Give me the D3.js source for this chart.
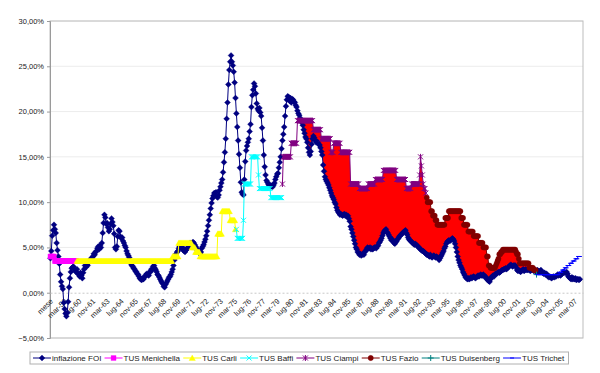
<!DOCTYPE html>
<html>
<head>
<meta charset="utf-8">
<script src="https://cdn.jsdelivr.net/npm/d3@7"></script>
<style>
  body { margin: 0; background: #fff; }
  svg text { font-family: "Liberation Sans", Arial, Helvetica, sans-serif; }
</style>
</head>
<body>
<div id="chart"></div>
<script>
// categories are months starting nov-57 (first label of the sheet is the header "mese")
const firstMonth = "1957-11"
const nMonths = 602

// x tick labels, one every 16 months
const tickLabels = ["mese", "mar-59", "lug-60", "nov-61", "mar-63", "lug-64", "nov-65", "mar-67", "lug-68", "nov-69",
  "mar-71", "lug-72", "nov-73", "mar-75", "lug-76", "nov-77", "mar-79", "lug-80", "nov-81", "mar-83",
  "lug-84", "nov-85", "mar-87", "lug-88", "nov-89", "mar-91", "lug-92", "nov-93", "mar-95", "lug-96",
  "nov-97", "mar-99", "lug-00", "nov-01", "mar-03", "lug-04", "nov-05", "mar-07"]

const yTicks = [-5, 0, 5, 10, 15, 20, 25, 30]

// inflazione FOI (%), monthly from nov-57 to set-07
const inflazione = [
  3.8, 4.6,
  6.3, 6.9, 7.5, 7.0, 6.6, 5.5, 4.7, 4.0, 3.2, 2.0, 1.2, 0.7,         // 1958
  0.4, -1.1, -1.8, -2.3, -2.6, -2.2, -1.0, 0.6, 1.6, 2.3, 2.7, 2.8,  // 1959
  2.9, 2.6, 2.4, 2.3, 2.6, 2.1, 2.0, 1.8, 2.2, 1.9, 1.6, 2.2,        // 1960
  2.6, 3.0, 2.8, 3.2, 3.0, 3.3, 3.5, 3.6, 3.8, 3.7, 4.0, 4.3,        // 1961
  4.2, 4.5, 4.6, 4.9, 5.1, 4.8, 5.2, 5.0, 5.5, 6.6, 7.7, 8.6,        // 1962
  8.3, 7.6, 7.7, 7.2, 6.8, 7.0, 7.6, 8.2, 7.8, 7.4, 6.5, 5.0,        // 1963
  4.8, 5.1, 6.2, 6.9, 6.8, 6.2, 6.0, 6.1, 5.7, 5.5, 5.2, 5.0,        // 1964
  4.6, 4.3, 4.1, 3.9, 3.5, 3.2, 3.0, 2.9, 2.7, 2.6, 2.4, 2.3,        // 1965
  2.1, 2.0, 1.8, 1.6, 1.5, 1.4, 1.6, 1.5, 1.7, 1.8, 2.0, 2.1,        // 1966
  2.0, 1.9, 2.2, 2.4, 2.6, 2.5, 2.9, 3.0, 2.7, 2.5, 2.3, 2.0,        // 1967
  1.9, 1.7, 1.5, 1.3, 1.1, 1.0, 0.7, 0.6, 0.9, 1.1, 1.3, 1.5,        // 1968
  1.7, 1.8, 2.0, 2.3, 2.6, 3.0, 3.6, 4.0, 4.3, 4.5, 4.6, 4.9,        // 1969
  5.1, 5.0, 5.1, 5.0, 4.7, 4.6, 4.5, 4.7, 4.8, 5.0, 5.2, 5.4,        // 1970
  5.5, 5.4, 5.5, 5.6, 5.5, 5.3, 5.1, 4.9, 4.7, 4.6, 4.4, 4.3,        // 1971
  4.5, 4.9, 5.1, 5.3, 5.6, 5.9, 6.3, 6.8, 7.4, 8.0, 8.6, 9.3,        // 1972
  9.9, 10.4, 10.7, 11.0, 10.8, 11.1, 10.6, 10.5, 10.8, 11.3, 11.7, 12.1,   // 1973
  12.5, 13.3, 14.4, 15.5, 17.0, 19.2, 21.0, 23.0, 24.6, 25.5, 26.2, 25.5,  // 1974
  25.1, 24.4, 23.2, 21.5, 19.8, 18.3, 16.8, 15.3, 13.8, 12.2, 11.1, 10.9,  // 1975
  10.8, 12.5, 14.5, 15.7, 16.2, 16.6, 17.0, 17.8, 18.6, 20.5, 21.8, 22.4,  // 1976
  23.1, 22.8, 22.0, 20.9, 20.3, 20.1, 20.4, 19.9, 19.5, 18.2, 16.8, 15.2,  // 1977
  13.9, 13.0, 12.4, 12.2, 12.0, 11.8, 11.9, 11.7, 11.8, 11.7, 11.9, 12.1,  // 1978
  12.5, 12.8, 13.1, 13.2, 13.8, 14.4, 15.0, 15.9, 16.8, 17.5, 18.3, 19.5,  // 1979
  20.6, 21.3, 21.7, 21.6, 21.2, 21.5, 21.0, 21.4, 21.3, 21.1, 21.0, 20.7,  // 1980
  20.5, 20.1, 19.8, 19.6, 19.3, 19.0, 18.8, 18.5, 18.0, 17.6, 17.2, 17.0,  // 1981
  16.6, 16.0, 15.5, 15.2, 15.6, 16.4, 17.0, 17.3, 17.1, 16.8, 16.6, 16.7,  // 1982
  16.6, 16.4, 16.3, 16.0, 15.6, 15.2, 14.1, 13.4, 12.8, 12.5, 12.3, 12.1,  // 1983
  11.9, 11.6, 11.3, 11.0, 10.7, 10.5, 10.3, 10.0, 9.8, 9.4, 9.1, 8.9,      // 1984
  8.8, 8.6, 8.7, 8.6, 8.5, 8.6, 8.7, 8.5, 8.6, 8.4, 8.5, 8.2,        // 1985
  7.9, 7.3, 7.0, 6.6, 6.2, 5.8, 5.4, 5.0, 4.8, 4.5, 4.4, 4.2,        // 1986
  4.3, 4.1, 4.2, 4.3, 4.2, 4.5, 4.6, 4.8, 5.0, 4.9, 4.9, 5.0,        // 1987
  4.8, 4.9, 4.8, 4.9, 5.0, 5.0, 4.9, 5.1, 5.2, 5.5, 5.6, 5.8,        // 1988
  6.0, 6.3, 6.6, 6.8, 6.9, 7.0, 6.7, 6.6, 6.4, 6.2, 6.0, 5.8,        // 1989
  5.9, 5.7, 5.5, 5.4, 5.6, 5.7, 5.9, 6.0, 6.2, 6.3, 6.4, 6.5,        // 1990
  6.6, 6.7, 6.8, 6.9, 6.6, 6.4, 6.1, 5.9, 5.8, 5.7, 5.6, 5.5,        // 1991
  5.4, 5.3, 5.4, 5.3, 5.2, 5.1, 5.0, 4.9, 4.8, 4.7, 4.6, 4.6,        // 1992
  4.5, 4.4, 4.3, 4.2, 4.2, 4.1, 4.0, 4.2, 4.0, 3.9, 4.0, 4.1,        // 1993
  4.0, 3.9, 4.0, 3.9, 3.8, 3.6, 3.8, 4.0, 4.2, 4.4, 4.6, 4.9,        // 1994
  5.1, 5.4, 5.6, 5.7, 5.8, 5.7, 5.8, 5.9, 6.0, 5.9, 5.7, 5.4,        // 1995
  5.0, 4.5, 4.0, 3.6, 3.3, 3.0, 2.8, 2.6, 2.3, 2.1, 1.9, 1.7,        // 1996
  1.6, 1.5, 1.6, 1.5, 1.6, 1.7, 1.6, 1.7, 1.8, 1.7, 1.6, 1.7,        // 1997
  1.8, 1.9, 1.8, 1.9, 2.0, 1.9, 1.9, 2.0, 1.8, 1.8, 1.7, 1.5,        // 1998
  1.4, 1.3, 1.2, 1.5, 1.7, 1.8, 1.9, 1.8, 2.0, 2.1, 2.1, 2.2,        // 1999
  2.3, 2.2, 2.3, 2.4, 2.5, 2.5, 2.6, 2.6, 2.7, 2.6, 2.7, 2.8,        // 2000
  2.9, 3.0, 3.1, 3.0, 2.9, 3.0, 3.0, 3.0, 2.8, 2.5, 2.4, 2.5,        // 2001
  2.4, 2.3, 2.4, 2.5, 2.6, 2.4, 2.5, 2.6, 2.5, 2.5, 2.6, 2.5,        // 2002
  2.4, 2.5, 2.6, 2.5, 2.4, 2.5, 2.4, 2.3, 2.5, 2.4, 2.3, 2.4,        // 2003
  2.5, 2.3, 2.2, 2.1, 2.2, 2.0, 2.1, 2.0, 1.8, 1.7, 1.8, 1.7,        // 2004
  1.6, 1.7, 1.8, 1.7, 1.8, 1.8, 1.9, 2.0, 1.9, 2.0, 1.9, 2.0,        // 2005
  2.1, 2.2, 2.3, 2.2, 2.2, 2.3, 2.1, 1.8, 1.7, 1.6, 1.5, 1.7,        // 2006
  1.5, 1.6, 1.5, 1.6, 1.4, 1.5, 1.5, 1.4, 1.5                        // 2007
]

// tasso ufficiale di sconto: [month it takes effect, rate %]; last entry = last month of the period
const tusMenichella = [["1957-11", 4.0], ["1958-04", 3.5], ["1960-04", 3.5]]
const tusCarli = [["1960-05", 3.5], ["1969-05", 4.0], ["1969-12", 5.5], ["1971-03", 5.0], ["1971-07", 4.5],
  ["1971-12", 4.0], ["1973-08", 6.5], ["1974-01", 9.0], ["1974-10", 8.0], ["1975-04", 7.0]]
const tusBaffi = [["1975-05", 7.0], ["1975-06", 6.0], ["1976-01", 8.0], ["1976-02", 12.0], ["1976-10", 15.0],
  ["1977-06", 13.0], ["1977-07", 11.5], ["1978-08", 10.5], ["1979-08", 10.5]]
const tusCiampi = [["1979-09", 12.0], ["1979-10", 15.0], ["1980-07", 16.5], ["1981-02", 19.0], ["1982-08", 18.0],
  ["1983-05", 17.0], ["1984-04", 15.5], ["1984-07", 16.5], ["1985-03", 15.5], ["1986-02", 12.0],
  ["1986-12", 11.5], ["1987-10", 12.0], ["1988-06", 12.5], ["1989-03", 13.5], ["1990-06", 12.5],
  ["1991-05", 11.5], ["1991-11", 12.0], ["1992-08", 13.0], ["1992-09", 15.0], ["1992-10", 14.0],
  ["1992-11", 13.0], ["1992-12", 12.0], ["1993-01", 11.5], ["1993-03", 11.0]]
const tusFazio = [["1993-04", 10.5], ["1993-05", 10.0], ["1993-09", 9.0], ["1993-11", 8.5], ["1994-02", 8.0],
  ["1994-04", 7.5], ["1995-01", 8.25], ["1995-05", 9.0], ["1996-07", 8.25], ["1996-10", 7.5],
  ["1997-03", 6.75], ["1997-09", 6.25], ["1998-03", 5.5], ["1998-08", 5.0], ["1998-12", 4.0],
  ["1999-02", 3.0], ["1999-04", 2.75], ["1999-10", 3.0], ["1999-11", 3.25], ["1999-12", 3.5],
  ["2000-01", 3.75], ["2000-02", 4.25], ["2000-04", 4.5], ["2000-06", 4.75], ["2001-09", 4.5],
  ["2001-10", 4.25], ["2001-12", 3.75], ["2002-01", 3.25], ["2002-12", 2.75], ["2003-05", 2.5], ["2003-07", 2.5]]
const tusDuisenberg = [["2003-08", 2.0]]
const tusTrichet = [["2003-09", 2.0], ["2005-10", 2.25], ["2006-01", 2.5], ["2006-04", 2.75], ["2006-07", 3.0],
  ["2006-10", 3.25], ["2007-01", 3.5], ["2007-04", 3.75], ["2007-07", 4.0], ["2007-09", 4.0]]

const seriesNames = ["inflazione FOI", "TUS Menichella", "TUS Carli", "TUS Baffi", "TUS Ciampi", "TUS Fazio", "TUS Duisenberg", "TUS Trichet"]

// ---- helpers
const [y0, m0] = firstMonth.split("-").map(Number)
const monthIndex = s => {
  const [yy, mm] = s.split("-").map(Number)
  return (yy - y0) * 12 + (mm - m0)
}
function expandSteps(steps) {
  const out = []
  steps.forEach((s, k) => {
    const start = monthIndex(s[0])
    const end = k < steps.length - 1 ? monthIndex(steps[k + 1][0]) - 1 : start
    for (let i = start; i <= end; i++) out.push({ i: i, v: s[1] })
  })
  return out
}

// ---- svg & scales
const svg = d3.select("#chart").append("svg").attr("width", 600).attr("height", 373)

const x = d3.scaleBand().domain(d3.range(nMonths)).range([50, 583])
const cx = i => x(i) + x.bandwidth() / 2
const y = d3.scaleLinear().domain([-5, 30]).range([338, 21])

// gridlines
svg.append("g").selectAll("line").data(yTicks.filter(d => d !== 0)).enter().append("line")
  .attr("x1", 50).attr("x2", 583).attr("y1", d => y(d)).attr("y2", d => y(d))
  .attr("stroke", "#ececec").attr("stroke-width", 1)

// plot area border
svg.append("rect").attr("x", 50).attr("y", 21).attr("width", 533).attr("height", 317)
  .attr("fill", "none").attr("stroke", "#bdbdbd").attr("stroke-width", 1)

// y axis
const yAxis = svg.append("g").attr("transform", "translate(50,0)")
  .call(d3.axisLeft(y).tickValues(yTicks).tickSize(3).tickPadding(3)
    .tickFormat(d => d3.format(".2f")(d).replace(".", ",") + "%"))
yAxis.select(".domain").attr("stroke", "#9a9a9a")
yAxis.selectAll(".tick line").attr("stroke", "#9a9a9a")
yAxis.selectAll("text").attr("font-size", 7.5).attr("fill", "#222")

// x axis at 0%
const xAxis = svg.append("g").attr("transform", `translate(0,${y(0)})`)
  .call(d3.axisBottom(x).tickValues(d3.range(0, nMonths, 16)).tickSize(0).tickSizeOuter(0)
    .tickFormat(d => tickLabels[d / 16]))
xAxis.select(".domain").attr("stroke", "#c8c8c8").attr("stroke-dasharray", "2,2")
xAxis.selectAll("text")
  .attr("font-size", 7.5).attr("fill", "#222")
  .attr("text-anchor", "end").attr("x", 0).attr("y", 0).attr("dy", 0)
  .attr("transform", "translate(3,9) rotate(-45)")

// ---- data prep
const inflPts = inflazione.map((v, i) => ({ i: i, v: v }))
const tusSeries = [tusMenichella, tusCarli, tusBaffi, tusCiampi, tusFazio, tusDuisenberg, tusTrichet].map(expandSteps)

// red area: spread between TUS and inflation in the Ciampi and Fazio years
const spread = tusSeries[3].concat(tusSeries[4]).map(d => ({ i: d.i, lo: inflazione[d.i], hi: Math.max(d.v, inflazione[d.i]) }))
svg.append("path").datum(spread)
  .attr("d", d3.area().x(d => cx(d.i)).y0(d => y(d.lo)).y1(d => y(d.hi)))
  .attr("fill", "#ff0000")

// ---- markers
const markers = {
  diamond: { d: "M0,-3L3,0L0,3L-3,0Z", fill: true },
  square: { d: "M-2.5,-2.5h5v5h-5Z", fill: true },
  triangle: { d: "M0,-3L3.2,2.5L-3.2,2.5Z", fill: true },
  cross: { d: "M-2.5,-2.5L2.5,2.5M-2.5,2.5L2.5,-2.5", fill: false },
  star: { d: "M-2.5,-2.5L2.5,2.5M-2.5,2.5L2.5,-2.5M0,-3V3", fill: false },
  circle: { d: d3.symbol(d3.symbolCircle, 22)(), fill: true },
  plus: { d: "M-3,0H3M0,-3V3", fill: false },
  dash: { d: "M-2,0H2", fill: false }
}
const styles = [
  { color: "#000080", lineColor: "#000080", marker: "diamond" },
  { color: "#ff00ff", lineColor: "#ff00ff", marker: "square" },
  { color: "#ffff00", lineColor: "#ffff00", marker: "triangle" },
  { color: "#00ffff", lineColor: "#00ffff", marker: "cross" },
  { color: "#800080", lineColor: "#800080", marker: "star" },
  { color: "#800000", lineColor: "#800000", marker: "circle" },
  { color: "#008080", lineColor: "#008080", marker: "plus" },
  { color: "#0000ff", lineColor: "#0000ff", marker: "dash" }
]

const line = d3.line().x(d => cx(d.i)).y(d => y(d.v))
const allSeries = [inflPts].concat(tusSeries)

allSeries.forEach((pts, k) => {
  const st = styles[k]
  const mk = markers[st.marker]
  const g = svg.append("g")
  g.append("path").datum(pts).attr("d", line)
    .attr("fill", "none").attr("stroke", st.lineColor).attr("stroke-width", 1)
  g.selectAll("path.m").data(pts).enter().append("path").attr("class", "m")
    .attr("transform", d => `translate(${cx(d.i)},${y(d.v)})`)
    .attr("d", mk.d)
    .attr("fill", mk.fill ? st.color : "none")
    .attr("stroke", st.color).attr("stroke-width", mk.fill ? 0.3 : 1)
})

// ---- legend
const legend = svg.append("g")
const legendBox = legend.append("rect").attr("x", 30).attr("y", 352).attr("height", 12)
  .attr("fill", "#fff").attr("stroke", "#b0b0b0").attr("stroke-width", 1)
let lx = 33
seriesNames.forEach((name, k) => {
  const st = styles[k]
  const mk = markers[st.marker]
  const item = legend.append("g")
  item.append("line").attr("x1", lx).attr("x2", lx + 18).attr("y1", 358).attr("y2", 358)
    .attr("stroke", st.lineColor).attr("stroke-width", 1)
  item.append("path").attr("transform", `translate(${lx + 9},358)`).attr("d", mk.d)
    .attr("fill", mk.fill ? st.color : "none").attr("stroke", st.color).attr("stroke-width", mk.fill ? 0.3 : 1)
  const t = item.append("text").attr("x", lx + 19).attr("y", 358).attr("dy", "0.35em")
    .attr("font-size", 8).attr("fill", "#222").text(name)
  lx += 19 + t.node().getComputedTextLength() + 3.2
})
legendBox.attr("width", lx - 30 + 1)
</script>
</body>
</html>
